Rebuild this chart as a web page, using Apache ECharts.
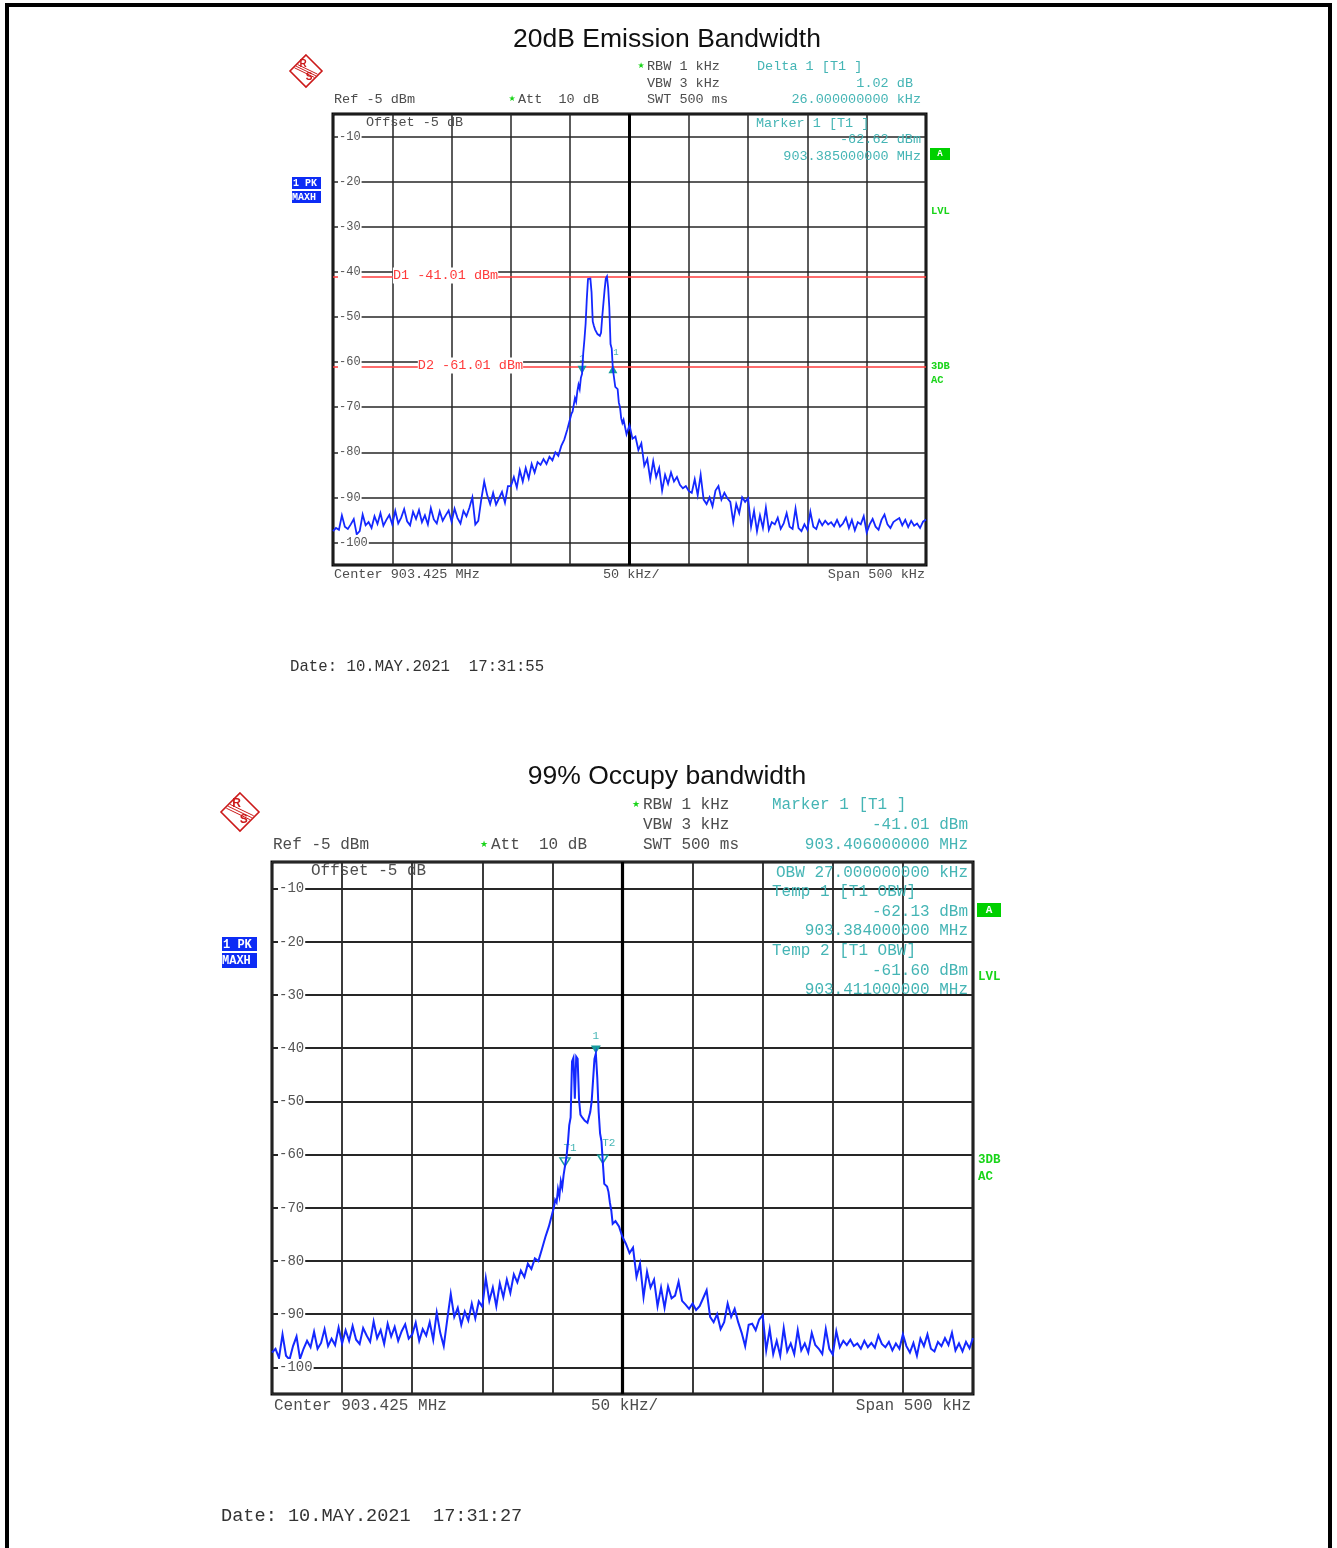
<!DOCTYPE html>
<html>
<head>
<meta charset="utf-8">
<script src="https://cdn.jsdelivr.net/npm/echarts@6.0.0/dist/echarts.min.js"></script>
<style>
html,body{margin:0;padding:0;background:#fff;overflow:hidden;}
#c{width:1337px;height:1548px;}
</style>
</head>
<body>
<div id="c"></div>
<script>
// ---------------- DATA ----------------
// sweep points, kHz from start frequency (903.175 MHz), span 500 kHz
const sweepKHz = [
  0, 2.5, 5, 7.5, 10, 12.5, 15, 17.5, 20, 22.5,
  25, 27.5, 30, 32.5, 35, 37.5, 40, 42.5, 45, 47.5,
  50, 52.5, 55, 57.5, 60, 62.5, 65, 67.5, 70, 72.5,
  75, 77.5, 80, 82.5, 85, 87.5, 90, 92.5, 95, 97.5,
  100, 102.5, 105, 107.5, 110, 112.5, 115, 117.5, 120, 122.5,
  125, 127.5, 130, 132.5, 135, 137.5, 140, 142.5, 145, 147.5,
  150, 152.5, 155, 157.5, 160, 162.5, 165, 167.5, 170, 172.5,
  175, 177.5, 180, 182.5, 185, 187.5, 190, 192.5, 195, 197.5,
  200,
  201, 202, 203, 204, 205, 206, 207, 208, 209, 210,
  211, 212, 213, 214, 215, 216, 217, 218, 219, 220,
  221, 222, 223, 224, 225, 226, 227, 228, 229, 230,
  231, 232, 233, 234, 235, 236, 237, 238, 239, 240,
  241, 242, 243, 244, 245,
  247.5, 250, 252.5, 255, 257.5, 260, 262.5, 265, 267.5, 270,
  272.5, 275, 277.5, 280, 282.5, 285, 287.5, 290, 292.5, 295,
  297.5, 300, 302.5, 305, 307.5, 310, 312.5, 315, 317.5, 320,
  322.5, 325, 327.5, 330, 332.5, 335, 337.5, 340, 342.5, 345,
  347.5, 350, 352.5, 355, 357.5, 360, 362.5, 365, 367.5, 370,
  372.5, 375, 377.5, 380, 382.5, 385, 387.5, 390, 392.5, 395,
  397.5, 400, 402.5, 405, 407.5, 410, 412.5, 415, 417.5, 420,
  422.5, 425, 427.5, 430, 432.5, 435, 437.5, 440, 442.5, 445,
  447.5, 450, 452.5, 455, 457.5, 460, 462.5, 465, 467.5, 470,
  472.5, 475, 477.5, 480, 482.5, 485, 487.5, 490, 492.5, 495,
  497.5, 500
];

// 20dB Emission Bandwidth trace (dBm)
const traceTopDbm = [
  -97.5, -96.8, -97.2, -94.0, -96.5, -97.0, -96.0, -94.8, -98.2, -97.5,
  -93.8, -96.2, -95.5, -96.8, -94.2, -95.9, -93.5, -96.3, -95.0, -93.9,
  -96.0, -93.0, -95.8, -94.5, -92.6, -95.3, -96.2, -93.2, -94.8, -92.8,
  -95.5, -94.0, -96.0, -92.4, -94.9, -95.8, -93.1, -95.2, -94.0, -92.9,
  -95.4, -92.5, -94.6, -95.8, -93.0, -94.2, -92.3, -90.0, -96.0, -95.2,
  -90.5, -86.5, -89.5, -91.5, -89.0, -91.6, -90.2, -88.8, -91.2, -87.5,
  -87.5, -85.5, -87.8, -84.0, -86.5, -83.5, -85.8, -82.6, -84.5, -82.2,
  -82.8, -81.5, -82.6, -81.0, -81.8, -80.0, -80.8, -78.6, -77.2, -75.0,
  -72.5,
  -71.5, -71.0, -69.5, -68.0, -68.8, -66.5, -65.0, -66.0, -63.5, -62.62,
  -58.0, -55.0, -51.5, -46.0, -41.6, -42.0, -41.5, -44.5, -51.0, -52.0,
  -52.8, -53.0, -53.8, -54.0, -54.2, -53.5, -50.0, -47.0, -44.0, -41.5,
  -41.01, -43.5, -48.0, -56.0, -57.0, -61.6, -62.0, -65.5, -65.8, -66.0,
  -69.0, -70.0, -72.5, -73.5, -72.8,
  -76.0, -74.0, -77.0, -76.5, -79.5, -78.0, -83.0, -81.5, -86.0, -82.0,
  -85.5, -83.5, -88.5, -85.0, -87.0, -84.5, -86.5, -85.5, -87.2, -88.0,
  -87.5, -88.6, -89.0, -86.0, -89.5, -85.0, -90.5, -91.5, -90.0, -92.0,
  -88.5, -87.5, -90.5, -89.0, -90.2, -91.0, -95.5, -91.5, -93.5, -90.0,
  -91.0, -90.2, -96.5, -93.0, -97.5, -94.0, -96.8, -92.3, -97.2, -95.5,
  -96.0, -94.5, -97.0, -95.8, -93.5, -96.5, -97.0, -92.5, -96.8, -97.5,
  -96.0, -97.2, -93.2, -96.5, -97.0, -95.0, -96.2, -95.2, -96.0, -95.5,
  -96.4, -95.0, -96.5, -95.8, -94.5, -96.8, -95.0, -97.3, -95.5, -96.0,
  -94.2, -97.8, -96.0, -94.8, -96.5, -97.2, -95.0, -93.8, -96.0, -96.8,
  -95.5, -95.0, -94.6, -96.2, -95.0, -96.6, -95.2, -96.3, -95.8, -96.8,
  -95.4, -94.9
];

// 99% Occupied bandwidth trace (dBm)
const traceBottomDbm = [
  -97.2, -96.5, -98.2, -93.8, -97.8, -98.5, -96.0, -94.2, -98.4, -96.5,
  -95.0, -96.2, -93.3, -96.5, -95.4, -92.8, -96.0, -94.6, -95.8, -92.5,
  -95.5, -93.0, -95.0, -92.2, -94.8, -95.6, -92.6, -94.0, -95.2, -91.4,
  -94.5, -93.0, -95.6, -91.8, -94.2, -92.4, -95.0, -93.2, -91.9, -94.6,
  -93.8, -91.6, -95.0, -92.8, -94.0, -91.5, -94.8, -89.7, -93.5, -96.0,
  -91.0, -86.2, -90.5, -88.8, -92.0, -89.5, -91.2, -88.0, -90.8, -87.6,
  -88.6, -83.2, -87.5, -85.0, -88.5, -84.2, -86.8, -83.5, -86.0, -82.5,
  -84.0, -81.8, -83.0, -80.5, -81.5, -79.5, -80.0, -77.8, -75.5, -73.5,
  -71.0,
  -70.0, -68.5, -69.0, -66.5, -67.8, -65.0, -66.2, -63.8, -62.13, -60.5,
  -58.0, -54.5, -53.0, -42.5, -41.8, -49.5, -41.6, -42.0, -49.7, -52.5,
  -52.9, -53.2, -53.6, -53.5, -54.0, -54.2, -52.0, -50.0, -46.0, -42.0,
  -41.01, -45.5, -52.0, -56.0, -57.5, -61.6, -65.5, -65.5, -66.0, -67.0,
  -69.0, -70.5, -73.0, -73.2, -72.5,
  -73.5, -75.5, -76.8, -78.5, -77.5, -83.0, -80.5, -86.8, -82.0, -85.0,
  -83.5, -88.5, -85.0, -88.8, -84.8, -87.0, -86.5, -83.9, -87.5, -88.2,
  -89.0, -88.0, -89.2, -88.5, -87.0, -85.5, -90.5, -91.5, -90.0, -92.8,
  -91.5, -88.0, -90.5, -89.0, -91.5, -93.5, -96.0, -92.0, -91.8, -93.0,
  -91.0, -90.2, -96.8, -92.8, -97.5, -95.0, -97.8, -92.6, -97.0, -95.5,
  -97.5, -93.0, -96.8, -95.5, -97.2, -93.5, -95.8, -96.5, -97.5, -92.8,
  -96.5, -97.6, -93.2, -96.2, -95.0, -95.8, -94.8, -96.0, -95.5, -96.5,
  -95.0, -96.2, -95.4, -96.3, -94.0, -95.6, -96.2, -95.2, -96.8, -95.5,
  -96.5, -93.8, -96.0, -97.2, -95.4, -97.8, -94.6, -96.0, -93.8, -96.5,
  -97.0, -95.2, -96.0, -94.5, -95.8, -93.5, -96.8, -95.5, -97.0, -95.2,
  -96.4, -94.5
];

// display lines (top chart)
const displayLineDbm = [-41.01, -61.01];
const displayLineNames = ['D1 -41.01 dBm', 'D2 -61.01 dBm'];

// markers
const markerTopKHz = [210, 236];
const markerTopDbm = [-62.62, -61.60];
const markerTopNames = ['1', '1'];
const markerBottomKHz = [231, 209, 236];
const markerBottomDbm = [-41.01, -62.13, -61.60];
const markerBottomNames = ['1', 'T1', 'T2'];

// axis settings
const refLevelDbm = -5;
const bottomLevelDbm = -105;
const spanKHz = 500;
const centerKHz = 250;
const freqDivKHz = 50;

// ---------------- CHART ----------------
const MONO = '"Liberation Mono","DejaVu Sans Mono",monospace';
const SANS = '"Liberation Sans",Arial,sans-serif';
const GRAY = '#4d4d4d';
const TEAL = '#45b5b5';
const TEAL_D = '#179c9c';
const GREEN = '#19d419';
const BLUE = '#0d2cf5';
const TRACE = '#1428ff';
const RED = '#ff3b3b';

const G = [
  {left: 333, top: 114, width: 593, height: 451, font: 12, lw: 1.5},
  {left: 272, top: 862, width: 701, height: 532, font: 14, lw: 1.8}
];

const chart = echarts.init(document.getElementById('c'), null, {width: 1337, height: 1548, renderer: 'canvas'});

const grids = G.map(g => ({
  left: g.left, top: g.top, width: g.width, height: g.height,
  show: true, borderColor: '#000', borderWidth: 3, backgroundColor: 'transparent', containLabel: false
}));

const xAxes = G.map((g, i) => ({
  type: 'value', gridIndex: i, min: 0, max: spanKHz, interval: freqDivKHz,
  axisLine: {show: false}, axisTick: {show: false}, axisLabel: {show: false},
  splitLine: {show: true, lineStyle: {color: '#262626', width: g.lw}}
}));

const yAxes = [];
G.forEach((g, i) => {
  yAxes.push({
    type: 'value', gridIndex: i, position: 'left', min: bottomLevelDbm, max: refLevelDbm, splitNumber: 10,
    axisLine: {show: false}, axisTick: {show: false}, axisLabel: {show: false},
    splitLine: {show: true, lineStyle: {color: '#262626', width: g.lw}}
  });
  yAxes.push({
    type: 'value', gridIndex: i, position: 'left', min: bottomLevelDbm, max: refLevelDbm, splitNumber: 10, z: 20,
    axisLine: {show: false}, axisTick: {show: false}, splitLine: {show: false},
    axisLabel: {
      show: true, inside: true, margin: i === 0 ? 5 : 6,
      showMinLabel: false, showMaxLabel: false,
      formatter: v => (Math.round(v) % 10 === 0 ? String(v) : ''),
      color: '#555', fontFamily: MONO, fontSize: g.font,
      backgroundColor: '#fff', padding: [0, 1, 3, 1]
    }
  });
});

function traceData(levels) { return sweepKHz.map((f, k) => [f, levels[k]]); }

const series = [
  // center line + display lines (top)
  {
    type: 'line', xAxisIndex: 0, yAxisIndex: 0, data: [], z: 2, silent: true,
    markLine: {
      silent: true, symbol: 'none', animation: false, label: {show: false},
      data: [{xAxis: centerKHz, lineStyle: {color: '#000', width: 3, type: 'solid'}}]
        .concat(displayLineDbm.map(v => ({yAxis: v, lineStyle: {color: RED, width: 1.6, type: 'solid'}})))
    }
  },
  {
    type: 'line', xAxisIndex: 1, yAxisIndex: 2, data: [], z: 2, silent: true,
    markLine: {
      silent: true, symbol: 'none', animation: false, label: {show: false},
      data: [{xAxis: centerKHz, lineStyle: {color: '#000', width: 3.2, type: 'solid'}}]
    }
  },
  {
    type: 'line', xAxisIndex: 0, yAxisIndex: 0, data: traceData(traceTopDbm),
    symbol: 'none', z: 5, silent: true, lineStyle: {color: TRACE, width: 1.8, join: 'miter'},
    markPoint: {
      silent: true, animation: false,
      data: [
        {coord: [markerTopKHz[0], markerTopDbm[0]], symbol: 'triangle', symbolSize: [9, 8], symbolRotate: 180,
         symbolOffset: [0, '-50%'], itemStyle: {color: TEAL_D},
         label: {show: true, formatter: markerTopNames[0], position: 'top', distance: 3, color: TEAL, fontSize: 9, fontFamily: MONO}},
        {coord: [markerTopKHz[1], markerTopDbm[1]], symbol: 'triangle', symbolSize: [9, 8],
         symbolOffset: [0, 0], itemStyle: {color: TEAL_D},
         label: {show: true, formatter: markerTopNames[1], position: 'top', distance: 8, offset: [3, 0], color: TEAL, fontSize: 9, fontFamily: MONO}}
      ]
    }
  },
  {
    type: 'line', xAxisIndex: 1, yAxisIndex: 2, data: traceData(traceBottomDbm),
    symbol: 'none', z: 5, silent: true, lineStyle: {color: TRACE, width: 2, join: 'miter'},
    markPoint: {
      silent: true, animation: false,
      data: [
        {coord: [markerBottomKHz[0], markerBottomDbm[0]], symbol: 'triangle', symbolSize: [10, 8], symbolRotate: 180,
         symbolOffset: [0, '-50%'], itemStyle: {color: TEAL_D},
         label: {show: true, formatter: markerBottomNames[0], position: 'top', distance: 4, color: TEAL, fontSize: 11, fontFamily: MONO}},
        {coord: [markerBottomKHz[1], markerBottomDbm[1]], symbol: 'triangle', symbolSize: [10, 8], symbolRotate: 180,
         symbolOffset: [0, '-50%'], itemStyle: {color: '#fff', borderColor: TEAL_D, borderWidth: 1.5},
         label: {show: true, formatter: markerBottomNames[1], position: 'top', distance: 4, offset: [5, 0], color: TEAL, fontSize: 11, fontFamily: MONO}},
        {coord: [markerBottomKHz[2], markerBottomDbm[2]], symbol: 'triangle', symbolSize: [10, 8], symbolRotate: 180,
         symbolOffset: [0, '-50%'], itemStyle: {color: '#fff', borderColor: TEAL_D, borderWidth: 1.5},
         label: {show: true, formatter: markerBottomNames[2], position: 'top', distance: 6, offset: [6, 0], color: TEAL, fontSize: 11, fontFamily: MONO}}
      ]
    }
  }
];

chart.setOption({
  animation: false,
  backgroundColor: '#fff',
  grid: grids, xAxis: xAxes, yAxis: yAxes, series: series
});

// ---------------- TEXT / DECORATION ----------------
function txt(x, y, text, size, color, align, extra) {
  const st = Object.assign({
    text: text, fill: color, font: size + 'px ' + MONO,
    textAlign: align || 'left', textVerticalAlign: 'middle'
  }, extra || {});
  return {type: 'text', x: x, y: y, z: 60, silent: true, style: st};
}
function box(x, y, w, h, fill) {
  return {type: 'rect', z: 55, silent: true, shape: {x: x, y: y, width: w, height: h}, style: {fill: fill}};
}
function star(x, y, s) {
  return {type: 'text', x: x, y: y, z: 60, silent: true,
    style: {text: '\u2605', fill: GREEN, font: s + 'px "DejaVu Sans"', textAlign: 'center', textVerticalAlign: 'middle'}};
}
function logo(cx, cy, s) {
  const red = '#cc1a1a';
  const els = [
    {type: 'polygon', z: 55, silent: true, shape: {points: [[cx, cy - s], [cx + s, cy], [cx, cy + s], [cx - s, cy]]},
     style: {fill: '#fff', stroke: red, lineWidth: 1.6}}
  ];
  for (let k = -1; k <= 1; k++) {
    const d = k * s * 0.1;
    els.push({type: 'line', z: 56, silent: true,
      shape: {x1: cx - s * 0.62 + d, y1: cy - s * 0.3 - d, x2: cx + s * 0.62 + d, y2: cy + s * 0.3 - d},
      style: {stroke: red, lineWidth: 1}});
  }
  els.push({type: 'text', z: 57, silent: true, x: cx - s * 0.18, y: cy - s * 0.42,
    style: {text: 'R', fill: red, font: 'bold ' + Math.round(s * 0.62) + 'px ' + SANS, textAlign: 'center', textVerticalAlign: 'middle'}});
  els.push({type: 'text', z: 57, silent: true, x: cx + s * 0.2, y: cy + s * 0.42,
    style: {text: 'S', fill: red, font: 'bold ' + Math.round(s * 0.62) + 'px ' + SANS, textAlign: 'center', textVerticalAlign: 'middle'}});
  return els;
}

const d1 = chart.convertToPixel({gridIndex: 0}, [50.5, displayLineDbm[0]]);
const d2 = chart.convertToPixel({gridIndex: 0}, [71.5, displayLineDbm[1]]);

let gfx = [];
// outer frame
gfx.push({type: 'rect', z: 70, silent: true, shape: {x: 7, y: 5, width: 1323, height: 1620}, style: {fill: 'none', stroke: '#000', lineWidth: 4}});

// ---- top chart ----
gfx.push({type: 'text', x: 667, y: 40, z: 60, silent: true,
  style: {text: '20dB Emission Bandwidth', fill: '#111', font: '26.5px ' + SANS, textAlign: 'center', textVerticalAlign: 'middle'}});
gfx = gfx.concat(logo(306, 71, 16));
const f1 = 13.5;
gfx.push(star(641, 66, 8), txt(647, 66, 'RBW 1 kHz', f1, GRAY));
gfx.push(txt(757, 66, 'Delta 1 [T1 ]', f1, TEAL));
gfx.push(txt(647, 83, 'VBW 3 kHz', f1, GRAY));
gfx.push(txt(913, 83, '1.02 dB', f1, TEAL, 'right'));
gfx.push(txt(334, 99, 'Ref -5 dBm', f1, GRAY));
gfx.push(star(512, 99, 8), txt(518, 99, 'Att  10 dB', f1, GRAY));
gfx.push(txt(647, 99, 'SWT 500 ms', f1, GRAY));
gfx.push(txt(921, 99, '26.000000000 kHz', f1, TEAL, 'right'));
gfx.push(txt(366, 122, 'Offset -5 dB', f1, GRAY));
gfx.push(txt(756, 123, 'Marker 1 [T1 ]', f1, TEAL));
gfx.push(txt(921, 139, '-62.62 dBm', f1, TEAL, 'right'));
gfx.push(txt(921, 156, '903.385000000 MHz', f1, TEAL, 'right'));
gfx.push(txt(d1[0], d1[1] - 1, displayLineNames[0], f1, RED, 'left', {backgroundColor: '#fff', padding: [1, 0, 1, 0]}));
gfx.push(txt(d2[0], d2[1] - 1, displayLineNames[1], f1, RED, 'left', {backgroundColor: '#fff', padding: [1, 0, 1, 0]}));
gfx.push(txt(334, 574, 'Center 903.425 MHz', f1, GRAY));
gfx.push(txt(603, 574, '50 kHz/', f1, GRAY));
gfx.push(txt(925, 574, 'Span 500 kHz', f1, GRAY, 'right'));
gfx.push(txt(290, 667, 'Date: 10.MAY.2021  17:31:55', 15.7, '#333'));
gfx.push(box(930, 148, 20, 12, '#00d000'));
gfx.push(txt(940, 154, 'A', 9, '#fff', 'center', {font: 'bold 9px ' + MONO}));
gfx.push(txt(931, 211, 'LVL', 11, GREEN, 'left', {font: 'bold 10.5px ' + MONO}));
gfx.push(txt(931, 366, '3DB', 11, GREEN, 'left', {font: 'bold 10.5px ' + MONO}));
gfx.push(txt(931, 380, 'AC', 11, GREEN, 'left', {font: 'bold 10.5px ' + MONO}));
gfx.push(box(292, 177, 29, 12, BLUE), txt(293, 183.5, '1 PK', 10, '#fff', 'left', {font: 'bold 10px ' + MONO}));
gfx.push(box(292, 191, 29, 12, BLUE), txt(292, 197.5, 'MAXH', 10, '#fff', 'left', {font: 'bold 10px ' + MONO}));

// ---- bottom chart ----
gfx.push({type: 'text', x: 667, y: 777, z: 60, silent: true,
  style: {text: '99% Occupy bandwidth', fill: '#111', font: '26.5px ' + SANS, textAlign: 'center', textVerticalAlign: 'middle'}});
gfx = gfx.concat(logo(240, 812, 19));
const f2 = 16;
gfx.push(star(636, 805, 9), txt(643, 805, 'RBW 1 kHz', f2, GRAY));
gfx.push(txt(772, 805, 'Marker 1 [T1 ]', f2, TEAL));
gfx.push(txt(643, 825, 'VBW 3 kHz', f2, GRAY));
gfx.push(txt(968, 825, '-41.01 dBm', f2, TEAL, 'right'));
gfx.push(txt(273, 845, 'Ref -5 dBm', f2, GRAY));
gfx.push(star(484, 845, 9), txt(491, 845, 'Att  10 dB', f2, GRAY));
gfx.push(txt(643, 845, 'SWT 500 ms', f2, GRAY));
gfx.push(txt(968, 845, '903.406000000 MHz', f2, TEAL, 'right'));
gfx.push(txt(311, 871, 'Offset -5 dB', f2, GRAY));
gfx.push(txt(968, 873, 'OBW 27.000000000 kHz', f2, TEAL, 'right'));
gfx.push(txt(772, 892, 'Temp 1 [T1 OBW]', f2, TEAL));
gfx.push(txt(968, 912, '-62.13 dBm', f2, TEAL, 'right'));
gfx.push(txt(968, 931, '903.384000000 MHz', f2, TEAL, 'right'));
gfx.push(txt(772, 951, 'Temp 2 [T1 OBW]', f2, TEAL));
gfx.push(txt(968, 971, '-61.60 dBm', f2, TEAL, 'right'));
gfx.push(txt(968, 990, '903.411000000 MHz', f2, TEAL, 'right'));
gfx.push(txt(274, 1406, 'Center 903.425 MHz', f2, GRAY));
gfx.push(txt(591, 1406, '50 kHz/', f2, GRAY));
gfx.push(txt(971, 1406, 'Span 500 kHz', f2, GRAY, 'right'));
gfx.push(txt(221, 1516, 'Date: 10.MAY.2021  17:31:27', 18.6, '#333'));
gfx.push(box(977, 903, 24, 14, '#00d000'));
gfx.push(txt(989, 910, 'A', 11, '#fff', 'center', {font: 'bold 11px ' + MONO}));
gfx.push(txt(978, 977, 'LVL', 12, GREEN, 'left', {font: 'bold 12.5px ' + MONO}));
gfx.push(txt(978, 1160, '3DB', 12, GREEN, 'left', {font: 'bold 12.5px ' + MONO}));
gfx.push(txt(978, 1177, 'AC', 12, GREEN, 'left', {font: 'bold 12.5px ' + MONO}));
gfx.push(box(222, 937, 35, 14, BLUE), txt(223, 944.5, '1 PK', 12, '#fff', 'left', {font: 'bold 12px ' + MONO}));
gfx.push(box(222, 953, 35, 15, BLUE), txt(222, 961, 'MAXH', 12, '#fff', 'left', {font: 'bold 12px ' + MONO}));

chart.setOption({graphic: {elements: gfx}});
</script>
</body>
</html>
